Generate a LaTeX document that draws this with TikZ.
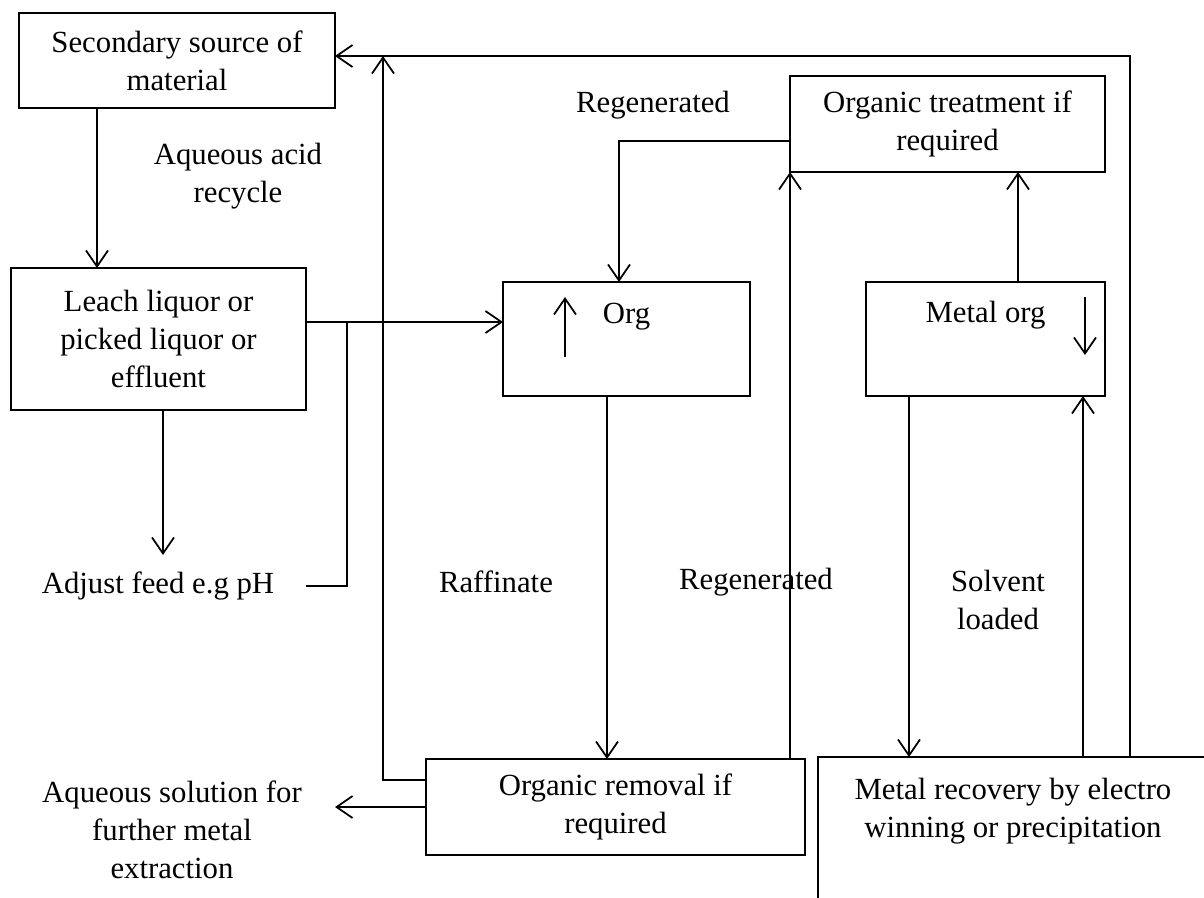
\documentclass[tikz,border=0pt]{standalone}
\usepackage{fontspec}
\setmainfont{Liberation Serif}
\usetikzlibrary{arrows.meta}

\begin{document}
\begin{tikzpicture}[x=0.02cm,y=-0.02cm,line width=1pt,font=\fontsize{17.5}{21.6}\selectfont,
 box/.style={draw,align=center,inner sep=0pt,outer sep=0pt},
 lbl/.style={align=center,inner sep=0pt},
 arr/.style={-{Straight Barb[length=3.2mm,width=4.4mm]}}]
\useasboundingbox(0,0)rectangle(1204,897);\clip(0,0)rectangle(1204,897);
% boxes
\node[box,minimum width=63.2mm,minimum height=19mm](src)at(177,60.5){Secondary source of\\material};
\node[box,minimum width=59mm,minimum height=28.4mm](leach)at(158.5,339){Leach liquor or\\picked liquor or\\effluent};
\node[box,minimum width=49.4mm,minimum height=22.8mm,label={[lbl,anchor=north,yshift=-4mm]north:Org}](org)at(626.5,339){};
\node[box,minimum width=47.8mm,minimum height=22.8mm,label={[lbl,anchor=north,yshift=-3.6mm]north:Metal org}](metorg)at(985.5,339){};
\node[box,minimum width=63mm,minimum height=19.2mm](treat)at(947.5,124){Organic treatment if\\required};
\node[box,minimum width=75.8mm,minimum height=19.2mm](removal)at(615.5,807){Organic removal if\\required};
\node[box,anchor=north west,minimum width=84mm,minimum height=34mm,label={[lbl,anchor=north,xshift=-3mm,yshift=-4mm]north:Metal recovery by electro\\winning or precipitation}](rec)at(818,757){};
% free texts
\node[lbl](acid)at(238,176){Aqueous acid\\recycle};
\node[lbl,inner ysep=3.2mm](adjust)at(158,586){Adjust feed e.g pH};
\node[lbl](regtop)at(653,105){Regenerated};
\node[lbl](raff)at(496,582){Raffinate};
\node[lbl](regmid)at(756,582){Regenerated};
\node[lbl](solv)at(998,600){Solvent\\loaded};
\node[lbl](aqsol)at(172,830){Aqueous solution for\\further metal\\extraction};
\coordinate(ret)at([yshift=0.9mm]src.east);
\coordinate(feed)at([yshift=3.4mm]leach.east);
\coordinate(aqout)at(335,807);
% flows
\draw[arr](97,0 |- src.south)--(97,0 |- leach.north);
\draw[arr](163,0 |- leach.south)--(163,0 |- adjust.north);
\draw(adjust.east)++(31,0)-|(347,0 |- feed);
\draw[arr](feed)--(feed -| org.west);
\draw[arr](607,0 |- org.south)--(607,0 |- removal.north);
\draw[arr]([yshift=-3.4mm]treat.west)-|(619,0 |- org.north);
\draw[arr](treat.south west |- removal.north)--(treat.south west);
\draw[arr](1018,0 |- metorg.north)--(1018,0 |- treat.south);
\draw[arr](909,0 |- metorg.south)--(909,0 |- rec.north);
\draw[arr](1083,0 |- rec.north)--(1083,0 |- metorg.south);
\draw[arr](1130,0 |- rec.north)|-(ret);
\draw[arr]([yshift=5.4mm]removal.west)-|(383,0 |- ret);
\draw[arr](removal.west)--(aqout);
% direction marks in the boxes
\draw[arr](565,357)--(565,297);\draw[arr](1085,297)--(1085,355);
\end{tikzpicture}
\end{document}
